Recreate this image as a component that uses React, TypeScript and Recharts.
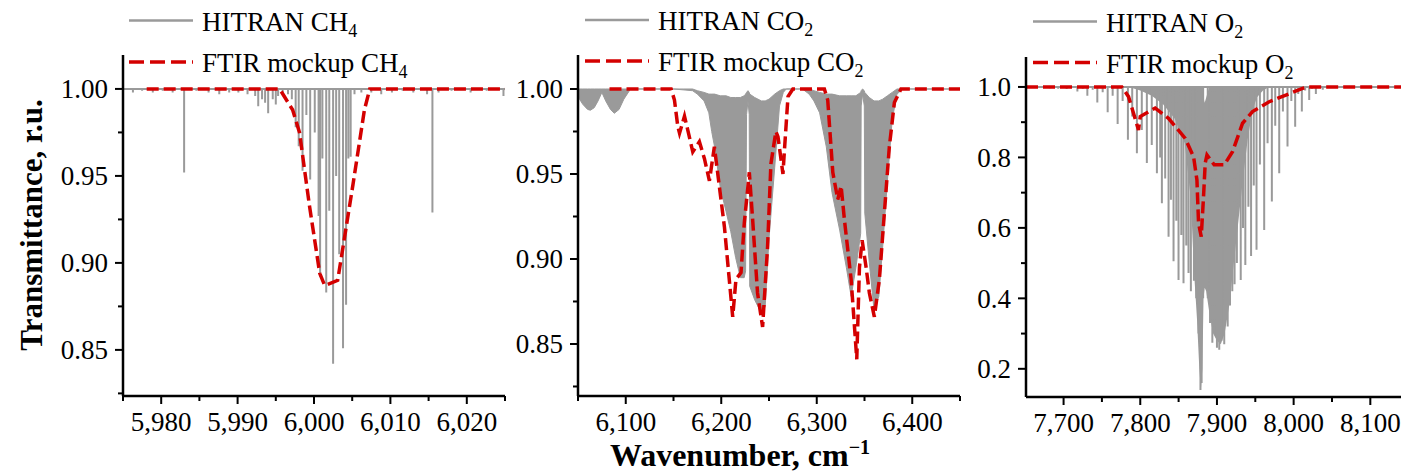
import React from "react";
import { ComposedChart, Line, Area, XAxis, YAxis } from "recharts";

const FONT = '"Liberation Serif", "Times New Roman", Times, serif';
const GREY = "#9a9a9a";
const RED = "#d40000";

// ---- CH4 panel ----
const ch4LinePos = [
  5976.3, 5977.5, 5978.9, 5980.2, 5981.5, 5983.0, 5984.6, 5986.2, 5987.6, 5988.9,
  5990.1, 5991.3, 5992.3, 5992.7, 5993.2, 5993.6, 5994.0, 5994.6, 5995.0, 5995.3,
  5995.9, 5996.6, 5997.1, 5997.6, 5998.0, 5998.5, 5999.0, 5999.5, 6000.1, 6000.6,
  6000.8, 6001.1, 6001.6, 6002.0, 6002.5, 6002.9, 6003.3, 6003.8, 6004.2, 6004.5,
  6004.8, 6005.3, 6006.2, 6007.5, 6008.8, 6010.2, 6011.6, 6013.0, 6014.8, 6015.5,
  6016.3, 6018.0, 6020.5, 6022.6, 6024.8,
];
const ch4LineT = [
  0.998, 0.999, 0.998, 0.999, 0.998, 0.952, 0.999, 0.998, 0.997, 0.998,
  0.998, 0.997, 0.996, 0.99, 0.994, 0.992, 0.986, 0.994, 0.991, 0.996,
  0.998, 0.997, 0.994, 0.978, 0.967, 0.953, 0.985, 0.948, 0.975, 0.927,
  0.892, 0.96, 0.883, 0.93, 0.842, 0.95, 0.905, 0.851, 0.876, 0.96,
  0.961, 0.997, 0.998, 0.998, 0.997, 0.998, 0.999, 0.998, 0.997, 0.929,
  0.998, 0.999, 0.998, 0.999, 0.996,
];
const ch4FtirX = [5978.1, 5995.5, 5997.2, 5998.1, 5999.4, 6000.75, 6001.4, 6003.1, 6005.1, 6006.6, 6007.3, 6025];
const ch4FtirT = [1.0, 1.0, 0.988, 0.975, 0.933, 0.894, 0.887, 0.89, 0.945, 0.988, 1.0, 1.0];

// ---- CO2 panel ----
const co2BandX = [
  6050, 6055, 6060, 6063, 6067, 6071, 6075, 6079, 6084, 6088, 6093, 6098, 6105, 6150,
  6160, 6170, 6175, 6182, 6187, 6190, 6193, 6199, 6205, 6210, 6215, 6220, 6224, 6225.5,
  6226.5, 6228, 6229.3, 6229.8, 6235, 6242, 6246, 6250, 6256, 6261, 6265, 6268, 6285,
  6292, 6297, 6303, 6310, 6316, 6324, 6331, 6336, 6341, 6346, 6346.5, 6348, 6349.8,
  6350.3, 6355, 6360, 6365, 6369, 6374, 6379, 6384, 6390, 6450,
];
const co2BandLow = [
  0.9955, 0.991, 0.988, 0.9875, 0.989, 0.993, 0.998, 0.993, 0.988, 0.9857, 0.988, 0.994, 1.0, 1.0,
  0.9995, 0.999, 0.997, 0.993, 0.986, 0.975, 0.966, 0.942, 0.928, 0.916, 0.901, 0.889, 0.889, 0.893,
  0.985, 0.993, 0.985, 0.884, 0.876, 0.868, 0.872, 0.912, 0.954, 0.99, 0.998, 1.0, 1.0,
  0.997, 0.993, 0.986, 0.966, 0.939, 0.917, 0.895, 0.878, 0.895, 0.915, 0.99, 0.997, 0.99,
  0.927, 0.898, 0.87, 0.878, 0.907, 0.946, 0.982, 0.997, 1.0, 1.0,
];
const co2BandHigh = [
  1.0, 1.0, 1.0, 1.0, 1.0, 1.0, 1.0, 1.0, 1.0, 1.0, 1.0, 1.0, 1.0, 1.0,
  1.0, 1.0, 0.999, 0.998, 0.997, 0.997, 0.997, 0.996, 0.996, 0.995, 0.995, 0.995, 0.996, 0.997,
  0.998, 0.999, 0.998, 0.997, 0.995, 0.993, 0.993, 0.994, 0.997, 0.999, 1.0, 1.0, 1.0,
  1.0, 0.999, 0.998, 0.997, 0.997, 0.996, 0.996, 0.996, 0.996, 0.998, 0.999, 1.0, 0.999,
  0.998, 0.995, 0.993, 0.993, 0.994, 0.996, 0.998, 1.0, 1.0, 1.0,
];
const co2FtirX = [
  6083, 6147.5, 6151, 6154.5, 6156.3, 6161.5, 6164.9, 6170.2, 6177.1, 6182.4, 6187.6, 6192.8,
  6203.3, 6212, 6215.4, 6220.7, 6224.1, 6229.4, 6232.9, 6238, 6243.3, 6248.5, 6252, 6257.2,
  6259.4, 6264.6, 6266.4, 6269.9, 6275, 6308, 6311.5, 6316.8, 6322, 6325.5, 6329, 6336,
  6341.9, 6344.7, 6347.5, 6351.7, 6355.1, 6360.3, 6365.6, 6370.8, 6376, 6381.3, 6388.2, 6450,
];
const co2FtirT = [
  1.0, 1.0, 0.9935, 0.978, 0.974, 0.984, 0.976, 0.963, 0.969, 0.959, 0.946, 0.966,
  0.919, 0.866, 0.888, 0.892, 0.921, 0.951, 0.923, 0.88, 0.86, 0.907, 0.956, 0.975,
  0.972, 0.95, 0.966, 0.9955, 1.0, 1.0, 0.9935, 0.951, 0.935, 0.943, 0.923, 0.888,
  0.841, 0.895, 0.911, 0.895, 0.88, 0.866, 0.888, 0.927, 0.966, 0.992, 1.0, 1.0,
];

// ---- O2 panel ----
const o2LinePos = [
  7662, 7672, 7682, 7693, 7704, 7712, 7718, 7725, 7731, 7738, 7744, 7751, 7757.5, 7764,
  7770.5, 7777, 7783.9, 7789.5, 7795.6, 7802, 7808.6, 7815, 7821.7, 7826, 7828.2, 7832.5,
  7836.9, 7840, 7843.4, 7847, 7849.9, 7853.5, 7856.4, 7860, 7862.9, 7866, 7870, 7873,
  7876, 7878.5, 7880, 7882, 7888, 7891, 7894, 7897, 7900, 7903, 7906, 7909.5, 7912,
  7914, 7917, 7920, 7923, 7926, 7931, 7934, 7937, 7941, 7944.5, 7948, 7951.6, 7956,
  7961.6, 7966, 7971.6, 7976, 7981.2, 7986, 7992, 7997, 8002, 8006, 8010.7, 8015, 8020.3,
  8024, 8029, 8038, 8047, 8056,
];
const o2LineT = [
  0.998, 0.997, 0.996, 0.995, 0.994, 0.997, 0.987, 0.995, 0.975, 0.992, 0.956, 0.985, 0.928, 0.975,
  0.895, 0.96, 0.85, 0.916, 0.812, 0.878, 0.784, 0.835, 0.755, 0.8, 0.67, 0.74,
  0.575, 0.68, 0.505, 0.62, 0.452, 0.58, 0.443, 0.55, 0.472, 0.42, 0.45, 0.4,
  0.3, 0.14, 0.16, 0.4, 0.4, 0.33, 0.274, 0.32, 0.26, 0.254, 0.28, 0.27, 0.34,
  0.32, 0.38, 0.42, 0.44, 0.5, 0.452, 0.6, 0.495, 0.66, 0.52, 0.72, 0.538, 0.78,
  0.594, 0.84, 0.675, 0.89, 0.755, 0.93, 0.831, 0.96, 0.887, 0.98, 0.93, 0.99, 0.963,
  0.995, 0.98, 0.992, 0.997, 0.999,
];
const o2CoreX = [
  7785, 7800, 7815, 7830, 7845, 7858, 7866, 7870, 7874, 7877, 7879, 7881, 7882.5, 7884,
  7886, 7890, 7895, 7900, 7905, 7910, 7916, 7922, 7928, 7934, 7940, 7946, 7952, 7960, 7968,
];
const o2CoreLow = [
  1.0, 0.99, 0.975, 0.95, 0.91, 0.84, 0.68, 0.48, 0.34, 0.2, 0.14, 0.2, 0.4, 0.43,
  0.42, 0.36, 0.3, 0.28, 0.27, 0.3, 0.38, 0.5, 0.62, 0.74, 0.85, 0.93, 0.97, 0.99, 1.0,
];
const o2CoreHigh = [
  1.0, 1.0, 1.0, 1.0, 1.0, 1.0, 1.0, 1.0, 1.0, 1.0, 1.0, 1.0, 0.97, 0.955,
  0.97, 1.0, 1.0, 1.0, 1.0, 1.0, 1.0, 1.0, 1.0, 1.0, 1.0, 1.0, 1.0, 1.0, 1.0,
];
const o2FtirX = [
  7651, 7776, 7784.7, 7791.2, 7797.7, 7800, 7819.5, 7836.8, 7858.6, 7869.5, 7873.9, 7876,
  7879.5, 7882.5, 7884.7, 7887, 7896.4, 7909.5, 7920.3, 7933.4, 7946.4, 7968.1, 7989.9,
  8011.6, 8020, 8140,
];
const o2FtirT = [
  1.0, 1.0, 0.9725, 0.925, 0.878, 0.916, 0.94, 0.911, 0.854, 0.802, 0.736, 0.614,
  0.575, 0.689, 0.784, 0.807, 0.779, 0.779, 0.816, 0.897, 0.93, 0.958, 0.977,
  0.996, 1.0, 1.0,
];

// ---- axis ticks ----
const ch4XMajor = [5980, 5990, 6000, 6010, 6020];
const ch4XMinor = [5975, 5985, 5995, 6005, 6015, 6025];
const co2XMajor = [6100, 6200, 6300, 6400];
const co2XMinor = [6050, 6150, 6250, 6350, 6450];
const o2XMajor = [7700, 7800, 7900, 8000, 8100];
const o2XMinor = [7750, 7850, 7950, 8050];
const smallYMajor = [0.85, 0.9, 0.95, 1.0];
const smallYMinor = [0.825, 0.875, 0.925, 0.975];
const o2YMajor = [0.2, 0.4, 0.6, 0.8, 1.0];
const o2YMinor = [0.3, 0.5, 0.7, 0.9];

const sticks = (pos: number[], t: number[], from: number, to: number) => {
  const pts = [{ x: from, y: 1 }];
  pos.forEach((p, i) => {
    pts.push({ x: p, y: 1 }, { x: p, y: t[i] }, { x: p, y: 1 });
  });
  pts.push({ x: to, y: 1 });
  return pts;
};
const toLine = (xs: number[], ys: number[]) => xs.map((x, i) => ({ x, y: ys[i] }));
const toBand = (xs: number[], lo: number[], hi: number[]) =>
  xs.map((x, i) => ({ x, band: [lo[i], hi[i]] }));

const XTick = (props: any) => {
  const { x, y, payload, majors } = props;
  const major = majors.includes(payload.value);
  return (
    <g>
      <line x1={x} x2={x} y1={y} y2={y + (major ? 8 : 5)} stroke="#000" strokeWidth={2} />
      {major && (
        <text x={x} y={y + 16} dy="0.71em" textAnchor="middle" fontSize={27} fontFamily={FONT} fill="#000">
          {payload.value.toLocaleString("en-US")}
        </text>
      )}
    </g>
  );
};

const YTick = (props: any) => {
  const { x, y, payload, majors, digits } = props;
  const major = majors.includes(payload.value);
  return (
    <g>
      <line x1={x - (major ? 8 : 5)} x2={x} y1={y} y2={y} stroke="#000" strokeWidth={2} />
      {major && (
        <text x={x - 15} y={y} dy="0.35em" textAnchor="end" fontSize={27} fontFamily={FONT} fill="#000">
          {payload.value.toFixed(digits)}
        </text>
      )}
    </g>
  );
};

type PanelProps = {
  left: number;
  right: number;
  top: number;
  bottom: number;
  xDomain: [number, number];
  yDomain: [number, number];
  xMajor: number[];
  xMinor: number[];
  yMajor: number[];
  yMinor: number[];
  digits: number;
  children: React.ReactNode;
};

const Panel = (p: PanelProps) => {
  const width = p.right - p.left + 80;
  return (
    <div style={{ position: "absolute", left: p.left - 70, top: 0 }}>
      <ComposedChart
        width={width}
        height={476}
        margin={{ top: p.top, right: 10, left: 10, bottom: 476 - p.bottom - 40 }}
      >
        <XAxis
          dataKey="x"
          type="number"
          domain={p.xDomain}
          allowDataOverflow
          ticks={[...p.xMajor, ...p.xMinor].sort((a, b) => a - b)}
          interval={0}
          height={40}
          tickSize={0}
          tickMargin={0}
          tickLine={false}
          axisLine={{ stroke: "#000", strokeWidth: 2.5 }}
          tick={(tp: any) => <XTick {...tp} majors={p.xMajor} />}
        />
        <YAxis
          type="number"
          domain={p.yDomain}
          allowDataOverflow
          ticks={[...p.yMajor, ...p.yMinor].sort((a, b) => a - b)}
          interval={0}
          width={60}
          tickSize={0}
          tickMargin={0}
          tickLine={false}
          axisLine={{ stroke: "#000", strokeWidth: 2.5 }}
          tick={(tp: any) => <YTick {...tp} majors={p.yMajor} digits={p.digits} />}
        />
        {p.children}
      </ComposedChart>
    </div>
  );
};

const LegendEntry = ({ x, y, label, sub, dashed }: { x: number; y: number; label: string; sub: string; dashed?: boolean }) => (
  <g>
    <line
      x1={x}
      x2={x + 64}
      y1={y}
      y2={y}
      stroke={dashed ? RED : GREY}
      strokeWidth={dashed ? 3.5 : 2.5}
      strokeDasharray={dashed ? "15 6" : undefined}
    />
    <text x={x + 73} y={y + 10} fontSize={27} fontFamily={FONT} fill="#000">
      {label}
      <tspan fontSize={18} dy={6}>{sub}</tspan>
    </text>
  </g>
);

export default function App() {
  return (
    <div style={{ position: "absolute", left: 0, top: 0, width: 1401, height: 476, overflow: "hidden", background: "#fff" }}>
      <Panel
        left={123} right={505} top={55} bottom={396}
        xDomain={[5975, 6025]} yDomain={[0.8235, 1.0195]}
        xMajor={ch4XMajor} xMinor={ch4XMinor} yMajor={smallYMajor} yMinor={smallYMinor} digits={2}
      >
        <Line data={sticks(ch4LinePos, ch4LineT, 5975, 6025)} dataKey="y" type="linear" stroke={GREY} strokeWidth={2} dot={false} activeDot={false} isAnimationActive={false} />
        <Line data={toLine(ch4FtirX, ch4FtirT)} dataKey="y" type="linear" stroke={RED} strokeWidth={3.5} strokeDasharray="12 5" dot={false} activeDot={false} isAnimationActive={false} />
      </Panel>
      <Panel
        left={578} right={960} top={55} bottom={396}
        xDomain={[6050, 6450]} yDomain={[0.8194, 1.02]}
        xMajor={co2XMajor} xMinor={co2XMinor} yMajor={smallYMajor} yMinor={smallYMinor} digits={2}
      >
        <Area data={toBand(co2BandX, co2BandLow, co2BandHigh)} dataKey="band" type="linear" stroke={GREY} strokeWidth={1} fill={GREY} fillOpacity={1} dot={false} activeDot={false} isAnimationActive={false} />
        <Line data={toLine(co2FtirX, co2FtirT)} dataKey="y" type="linear" stroke={RED} strokeWidth={3.5} strokeDasharray="12 5" dot={false} activeDot={false} isAnimationActive={false} />
      </Panel>
      <Panel
        left={1026} right={1401} top={57} bottom={397}
        xDomain={[7651, 8140]} yDomain={[0.12, 1.085]}
        xMajor={o2XMajor} xMinor={o2XMinor} yMajor={o2YMajor} yMinor={o2YMinor} digits={1}
      >
        <Area data={toBand(o2CoreX, o2CoreLow, o2CoreHigh)} dataKey="band" type="linear" stroke="none" fill={GREY} fillOpacity={1} dot={false} activeDot={false} isAnimationActive={false} />
        <Line data={sticks(o2LinePos, o2LineT, 7651, 8140)} dataKey="y" type="linear" stroke={GREY} strokeWidth={2} dot={false} activeDot={false} isAnimationActive={false} />
        <Line data={toLine(o2FtirX, o2FtirT)} dataKey="y" type="linear" stroke={RED} strokeWidth={3.5} strokeDasharray="12 5" dot={false} activeDot={false} isAnimationActive={false} />
      </Panel>
      <svg width={1401} height={476} style={{ position: "absolute", left: 0, top: 0, pointerEvents: "none" }}>
        <LegendEntry x={129} y={20.5} label="HITRAN CH" sub="4" />
        <LegendEntry x={129} y={62} label="FTIR mockup CH" sub="4" dashed />
        <LegendEntry x={585} y={20} label="HITRAN CO" sub="2" />
        <LegendEntry x={585} y={61} label="FTIR mockup CO" sub="2" dashed />
        <LegendEntry x={1033} y={21.5} label="HITRAN O" sub="2" />
        <LegendEntry x={1033} y={62.5} label="FTIR mockup O" sub="2" dashed />
        <text
          transform="translate(31,225) rotate(-90)"
          dy="0.35em"
          textAnchor="middle"
          fontSize={31}
          fontWeight="bold"
          fontFamily={FONT}
          fill="#000"
        >
          Transmittance, r.u.
        </text>
        <text x={740} y={466} textAnchor="middle" fontSize={32} fontWeight="bold" fontFamily={FONT} fill="#000">
          Wavenumber, cm
          <tspan fontSize={20} dy={-12}>−1</tspan>
        </text>
      </svg>
    </div>
  );
}
